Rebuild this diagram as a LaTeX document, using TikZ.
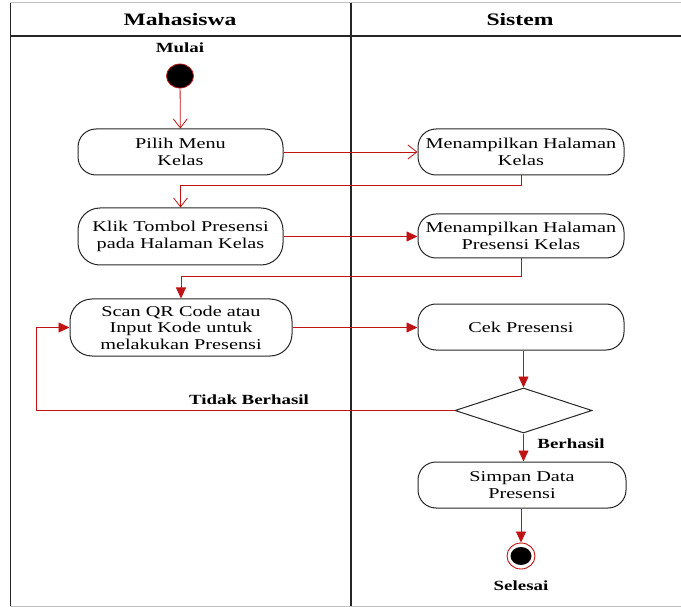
\documentclass[tikz,border=0pt]{standalone}
\usepackage{fontspec}
\setmainfont{Liberation Serif}[FakeStretch=1.35]
\usetikzlibrary{arrows.meta,shapes.geometric}
\definecolor{garis}{RGB}{192,20,20}
\tikzset{
  aksi/.style={draw=black!85,line width=1pt,rounded corners=18pt,minimum width=205pt,
    minimum height=46pt,align=center,inner sep=2pt,font=\fontsize{15}{16.5}\selectfont},
  label/.style={font=\bfseries\fontsize{14}{15}\selectfont},
  alur/.style={draw=garis,line width=0.8pt},
  buka/.style={alur,-{Straight Barb[length=9pt,width=14pt]}},
  isi/.style={alur,-{Triangle[length=11pt,width=10pt]},shorten >=0pt}
}
\begin{document}
\begin{tikzpicture}[x=1pt,y=-1pt]
	\useasboundingbox (0,0) rectangle (681,607);
	% swimlane
	\draw[black!25,line width=1pt] (10,3) -- (681,3);
	\draw[black!25,line width=1pt] (10,606) -- (681,606);
	\draw[black!85,line width=1.3pt] (10.5,3) -- (10.5,606);
	\draw[black!85,line width=1.3pt] (10,36) -- (681,36);
	\draw[black!85,line width=1.1pt] (351,3) -- (351,606);
	\node[font=\bfseries\fontsize{17.5}{19}\selectfont] (lajur1) at (180,20) {Mahasiswa};
	\node[font=\bfseries\fontsize{17.5}{19}\selectfont] (lajur2) at (520,20) {Sistem};
	% mulai
	\node[label] (mulai) at (180,48) {Mulai};
	\node[ellipse,fill=black,draw=garis,line width=0.8pt,minimum width=27pt,minimum height=24pt,inner sep=0pt] (awal) at (180,76) {};
	% aksi
	\node[aksi] (pilih) at (180.5,152) {Pilih Menu\\Kelas};
	\node[aksi,minimum width=206pt] (tampilKelas) at (521,152) {Menampilkan Halaman\\Kelas};
	\node[aksi,minimum height=57pt,rounded corners=22pt] (klik) at (180.5,236.5) {Klik Tombol Presensi\\pada Halaman Kelas};
	\node[aksi,minimum width=206pt,minimum height=44pt] (tampilPresensi) at (521,236) {Menampilkan Halaman\\Presensi Kelas};
	\node[aksi,minimum width=222pt,minimum height=57pt,rounded corners=22pt] (scan) at (181,327.5) {Scan QR Code atau\\Input Kode untuk\\melakukan Presensi};
	\node[aksi,minimum width=206pt] (cek) at (521,327) {Cek Presensi};
	\node[diamond,draw=black!85,line width=1pt,minimum width=137pt,minimum height=45pt,inner sep=0pt] (cabang) at (523.5,410.5) {};
	\node[aksi,minimum width=208pt] (simpan) at (522,485) {Simpan Data\\Presensi};
	% selesai
	\node[ellipse,draw=garis,fill=white,line width=0.9pt,minimum width=28pt,minimum height=26pt,inner sep=0pt] (akhir) at (521,556) {};
	\node[ellipse,fill=black,minimum width=21pt,minimum height=18pt,inner sep=0pt] (akhirIsi) at (akhir.center) {};
	\node[label] (selesai) at (521,586) {Selesai};
	% alur
	\draw[buka] (awal) -- (pilih);
	\draw[buka] (pilih) -- (tampilKelas);
	\draw[buka] (tampilKelas.south) -- ++(0,10) -| (klik.north);
	\draw[isi] (klik) -- (klik -| tampilPresensi.west);
	\draw[isi] (tampilPresensi.south) -- ++(0,18) -| (scan.north);
	\draw[isi] (scan) -- (scan -| cek.west);
	\draw[isi] (cek.south -| cabang.north) -- (cabang.north);
	\coordinate (balik) at (36,410.5);
	\draw[isi] (cabang.west) -- (balik) |- (scan.west);
	\node[label] (gagal) at (249,400) {Tidak Berhasil};
	\draw[isi] (cabang.south) -- (simpan.north -| cabang.south);
	\node[label] (berhasil) at (571,444) {Berhasil};
	\draw[isi] (simpan.south -| akhir.north) -- (akhir.north);
\end{tikzpicture}
\end{document}
